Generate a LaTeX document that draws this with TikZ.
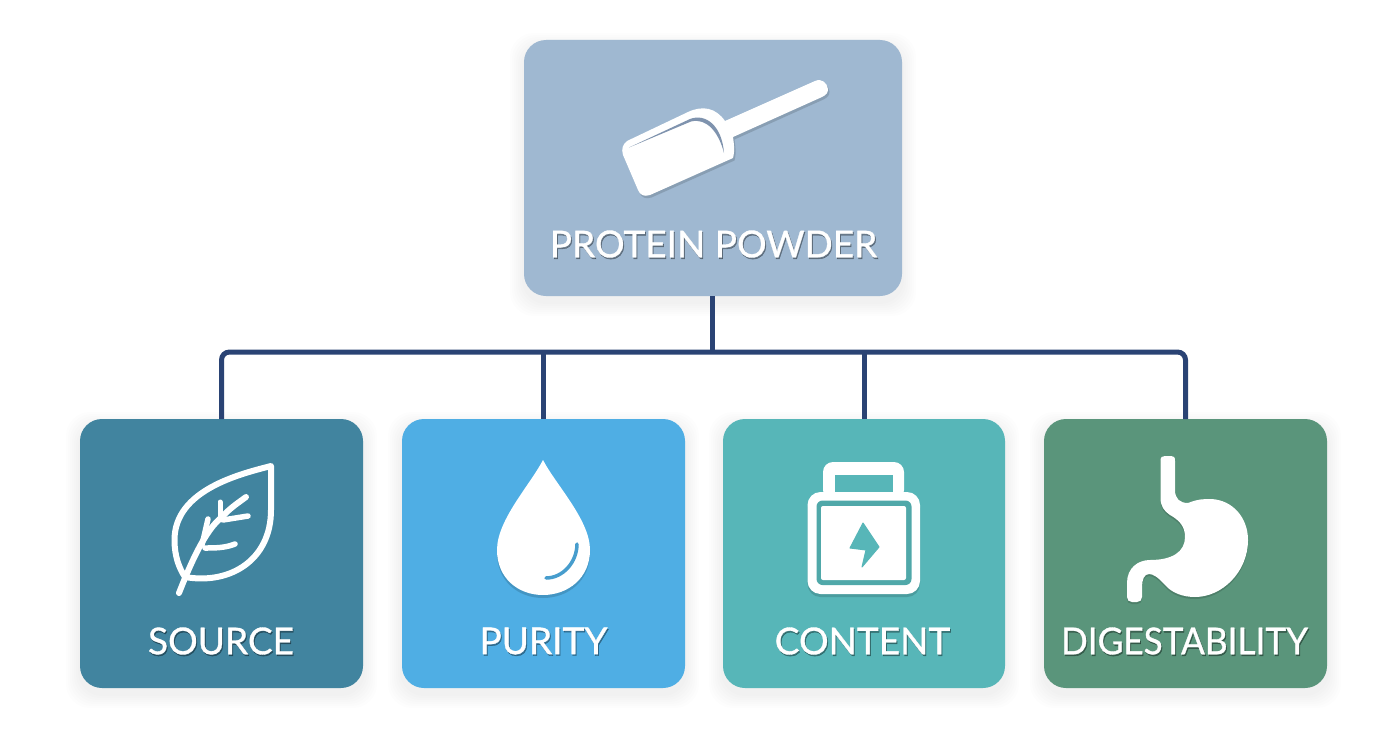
\documentclass[tikz,border=0pt]{standalone}
\usepackage{fontspec}
\setmainfont{Lato}
\newfontfamily\labfont{Lato}[FakeBold=0.9]
\definecolor{rootc}{HTML}{9FB8D1}
\definecolor{sourcec}{HTML}{41849F}
\definecolor{purityc}{HTML}{4FAEE4}
\definecolor{contentc}{HTML}{57B6B8}
\definecolor{digestc}{HTML}{5A957B}
\definecolor{linec}{HTML}{2A4374}
\definecolor{slitc}{HTML}{7F93AE}
\tikzset{
  card/.style={anchor=north west,inner sep=0pt,outer sep=0pt,rounded corners=22pt},
  conn/.style={draw=linec,line width=5pt},
  lab/.style={text=white,inner sep=0pt,font=\labfont\fontsize{37}{40}\selectfont},
  labshadow/.style={text=black,opacity=.34,inner sep=0pt,font=\labfont\fontsize{37}{40}\selectfont},
  iconstroke/.style={draw=white,line width=6pt,line cap=round,line join=round},
  icondrop/.style={black,opacity=.14},
}
\newcommand{\softshadow}[4]{% x y w h
  \foreach \i in {1,...,7}{
    \fill[black,opacity=.006,rounded corners=24pt]
      ({#1-2*\i},{#2+7-2*\i}) rectangle ({#1+#3+2*\i},{#2+#4+6+2*\i});
  }}
\newcommand{\lbl}[4]{% name x y text
  \node[labshadow] (#1s) at ({#2+1},{#3+1.6}) {#4};
  \node[lab] (#1) at (#2,#3) {#4};}
\def\scooppath{(627,141) -- (688,112) .. controls (703,105) and (716,108) .. (725,121) -- (815,81)
  .. controls (822,78) and (827,83) .. (828,89) .. controls (828,93) and (826,95) .. (822,97)
  -- (733,137) .. controls (734,145) and (735,150) .. (733,158)
  -- (650,195) .. controls (644,197) and (640,195) .. (638,190)
  -- (623,155) .. controls (621,149) and (623,144) .. (627,141) -- cycle}
\def\droppath{(543,460) .. controls (530,485) and (497,520) .. (497,550) .. controls (497,578) and (518,595) .. (543,595)
  .. controls (568,595) and (590,578) .. (590,550) .. controls (590,520) and (556,485) .. (543,460) -- cycle}
\def\stomachpath{(1160.5,461) .. controls (1160.5,457) and (1162,456) .. (1165,456) -- (1171,456) .. controls (1174,456) and (1175,457) .. (1175,461)
  -- (1175,490) .. controls (1175,499) and (1180,503) .. (1188,503)
  .. controls (1198,499) and (1204,499) .. (1211,499)
  .. controls (1233,500) and (1248,518) .. (1248,540)
  .. controls (1248,572) and (1222,597) .. (1195,597)
  .. controls (1183,597) and (1172,593) .. (1165,585)
  .. controls (1158,577) and (1153,574) .. (1149,574)
  .. controls (1144,574) and (1142,580) .. (1142,587)
  -- (1142,597) .. controls (1142,600) and (1140,602) .. (1137,602)
  -- (1132,602) .. controls (1129,602) and (1127,600) .. (1127,597)
  -- (1127,583) .. controls (1127,568) and (1138,560) .. (1150,560)
  .. controls (1172,560) and (1185,552) .. (1185,537)
  .. controls (1185,526) and (1179,520) .. (1170,515)
  .. controls (1164,511) and (1160.5,506) .. (1160.5,498) -- cycle}
\begin{document}
\begin{tikzpicture}[x=1pt,y=-1pt]
\useasboundingbox (0,0) rectangle (1392,752);
\fill[white] (0,0) rectangle (1392,752);
% shadows
\softshadow{524}{40}{378}{256}
\softshadow{80}{419}{283}{269}
\softshadow{402}{419}{283}{269}
\softshadow{723}{419}{282}{269}
\softshadow{1044}{419}{283}{269}
% cards
\node[card,fill=rootc,minimum width=378pt,minimum height=256pt] (root) at (524,40) {};
\node[card,fill=sourcec,minimum width=283pt,minimum height=269pt] (source) at (80,419) {};
\node[card,fill=purityc,minimum width=283pt,minimum height=269pt] (purity) at (402,419) {};
\node[card,fill=contentc,minimum width=282pt,minimum height=269pt] (content) at (723,419) {};
\node[card,fill=digestc,minimum width=283pt,minimum height=269pt] (digest) at (1044,419) {};
% connectors
\coordinate (busL) at (source.north |- 0,352);
\coordinate (busR) at (digest.north |- 0,352);
\draw[conn,rounded corners=8pt] (source.north) -- (busL) -- (busR) -- (digest.north);
\draw[conn] ([xshift=-1pt]root.south) -- ([xshift=-1pt]root.south |- busL);
\draw[conn] (purity.north) -- (purity.north |- busL);
\draw[conn] (content.north) -- (content.north |- busL);
% scoop
\begin{scope}[shift={(1.5,2.5)}]\fill[icondrop] \scooppath;\end{scope}
\fill[white] \scooppath;
\fill[slitc] (629,147.5) -- (690,119) .. controls (706,113) and (722,126) .. (724,153)
  .. controls (719,133) and (707,117.5) .. (691,121.5) -- cycle;
% leaf
\draw[iconstroke,miter limit=10] (271,466) .. controls (240,474) and (174.5,490) .. (174.5,540)
  .. controls (174.5,556) and (179,568) .. (185,577)
  .. controls (230,585) and (271,560) .. (271,510) -- cycle;
\draw[iconstroke] (179,593) .. controls (190,565) and (205,530) .. (222,517) .. controls (230,508) and (238,503) .. (246,497);
\draw[iconstroke,line width=5.5pt] (208,519) -- (202,545);
\draw[iconstroke,line width=5pt] (220,502) -- (220,518);
\draw[iconstroke,line width=5.5pt] (248,516) -- (223,520);
\draw[iconstroke,line width=5.5pt] (235,544) .. controls (225,548) and (215,548) .. (205,548);
% drop
\begin{scope}[shift={(0,3)}]\fill[icondrop] \droppath;\end{scope}
\fill[white] \droppath;
\draw[draw=purityc!90!black,line width=3.5pt,line cap=round] (577,544) .. controls (577,562) and (563,578) .. (546,578);
% jar
\begin{scope}[shift={(0,3)}]\fill[icondrop,rounded corners=13pt] (807.5,492) rectangle (920,594);\end{scope}
\fill[white,rounded corners=10pt] (823,462) rectangle (904,500);
\fill[contentc] (835,475) rectangle (893,492);
\fill[white,rounded corners=13pt] (807.5,492) rectangle (920,594);
\fill[contentc!92!black,rounded corners=6pt] (816.5,500.5) rectangle (911.5,585);
\fill[white,rounded corners=2pt] (821,506) rectangle (906,580);
\filldraw[fill=contentc,draw=contentc,line width=1pt,line join=round] (863,523) -- (879,547) -- (862,567) -- (866,550) -- (850,548) -- cycle;
% stomach
\begin{scope}[shift={(0,2)}]\fill[icondrop] \stomachpath;\end{scope}
\fill[white] \stomachpath;
% labels
\lbl{lroot}{713.5}{244}{PROTEIN POWDER}
\lbl{lsource}{221}{641}{SOURCE}
\lbl{lpurity}{543.5}{641}{PURITY}
\lbl{lcontent}{862.5}{641}{CONTENT}
\lbl{ldigest}{1184.5}{641}{\scalebox{.95}[1]{DIGESTABILITY}}
\end{tikzpicture}
\end{document}
